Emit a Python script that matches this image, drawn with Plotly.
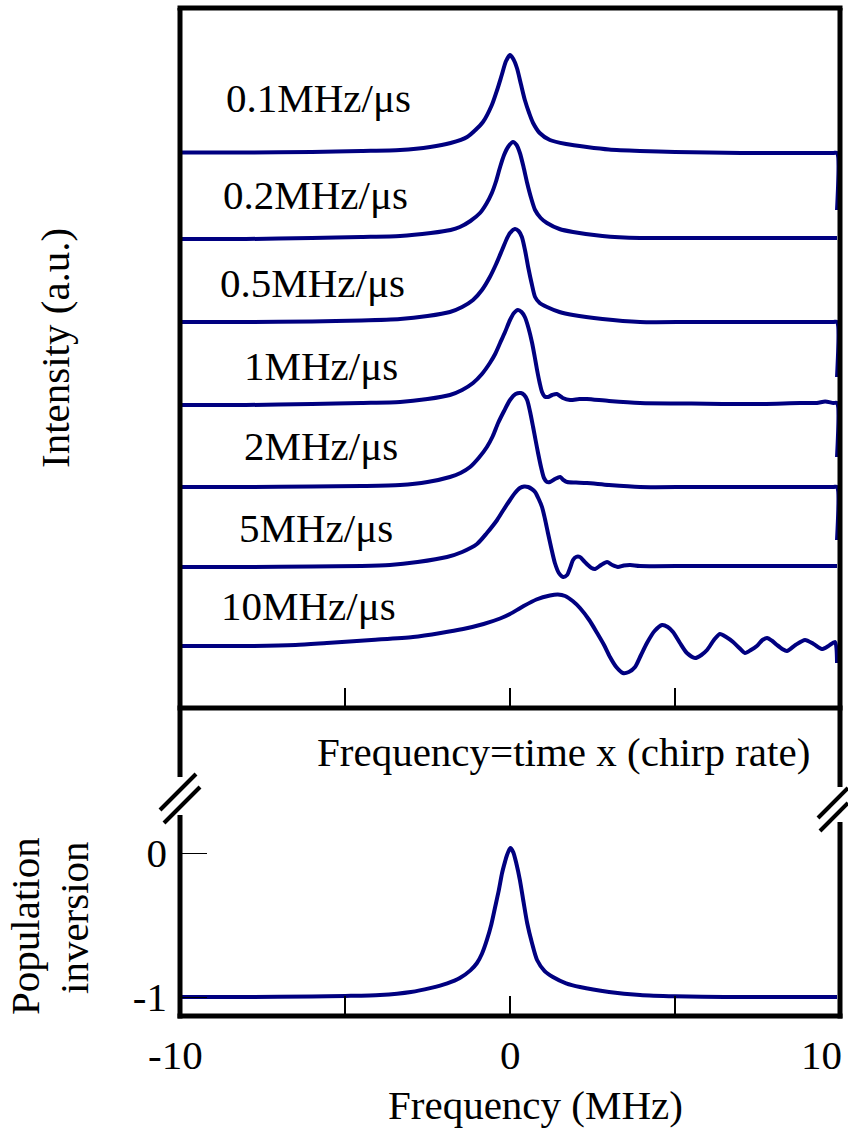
import plotly.graph_objects as go

# ---------------- data ----------------
chirp_labels = ["0.1MHz/μs", "0.2MHz/μs", "0.5MHz/μs", "1MHz/μs", "2MHz/μs", "5MHz/μs", "10MHz/μs"]
offsets = [5.56, 4.70, 3.86, 3.04, 2.21, 1.42, 0.62]

f_01 = [-9.94, -8, -6, -4.5, -3.33, -2.42, -1.8, -1.3, -0.82, -0.55, -0.39, -0.25, -0.12, 0.0, 0.1, 0.21, 0.33,
        0.45, 0.58, 0.70, 0.9, 1.21, 1.7, 2.33, 3.0, 3.94, 5.0, 7.0, 9.0, 9.8, 9.91, 9.91]
i_01 = [-0.005, -0.005, 0.0, 0.01, 0.02, 0.05, 0.09, 0.15, 0.30, 0.47, 0.62, 0.77, 0.91, 0.97, 0.93, 0.84, 0.68,
        0.52, 0.39, 0.29, 0.19, 0.12, 0.08, 0.05, 0.025, 0.01, 0.0, -0.01, -0.01, -0.01, -0.01, -0.58]

f_02 = [-9.94, -8, -6, -4.5, -3.33, -2.4, -1.8, -1.52, -1.2, -0.91, -0.72, -0.55, -0.42, -0.30, -0.18, -0.06, 0.09,
        0.2, 0.30, 0.41, 0.52, 0.64, 0.76, 0.93, 1.12, 1.5, 1.91, 2.8, 3.94, 5.5, 7.5, 9.91]
i_02 = [-0.01, -0.01, 0.0, 0.01, 0.02, 0.05, 0.08, 0.11, 0.17, 0.25, 0.34, 0.45, 0.57, 0.71, 0.83, 0.91, 0.96,
        0.93, 0.85, 0.71, 0.55, 0.40, 0.28, 0.20, 0.15, 0.09, 0.06, 0.02, 0.0, 0.0, 0.0, 0.0]

f_05 = [-9.94, -8, -6, -4.5, -3.33, -2.5, -1.82, -1.45, -1.12, -0.85, -0.61, -0.42, -0.24, -0.1, 0.0, 0.15, 0.26,
        0.36, 0.46, 0.55, 0.66, 0.76, 0.9, 1.12, 1.5, 1.91, 2.8, 3.94, 5.5, 7.5, 9.8, 9.91, 9.91]
i_05 = [0.0, 0.0, 0.005, 0.015, 0.03, 0.06, 0.10, 0.15, 0.22, 0.32, 0.45, 0.58, 0.72, 0.83, 0.89, 0.93, 0.91,
        0.85, 0.71, 0.55, 0.38, 0.25, 0.19, 0.15, 0.10, 0.07, 0.03, 0.0, 0.0, 0.0, 0.0, 0.0, -0.55]

f_1 = [-9.94, -8, -6, -4.5, -3.33, -2.5, -1.82, -1.45, -1.12, -0.85, -0.61, -0.45, -0.30, -0.15, 0.0, 0.12, 0.24,
       0.35, 0.45, 0.56, 0.67, 0.75, 0.82, 0.90, 0.97, 1.05, 1.15, 1.28, 1.42, 1.6, 1.82, 2.1, 2.33, 3.0, 3.94,
       5.5, 7.5, 8.79, 9.3, 9.55, 9.8, 9.91, 9.91]
i_1 = [-0.01, -0.01, 0.0, 0.01, 0.02, 0.05, 0.09, 0.14, 0.21, 0.30, 0.41, 0.50, 0.61, 0.72, 0.84, 0.91, 0.94,
       0.92, 0.87, 0.76, 0.61, 0.47, 0.34, 0.21, 0.12, 0.075, 0.07, 0.09, 0.10, 0.06, 0.04, 0.05, 0.05, 0.03, 0.01,
       0.005, 0.0, 0.01, 0.01, 0.025, 0.01, 0.01, -0.53]

f_2 = [-9.94, -8, -6, -4.5, -3.33, -2.5, -1.82, -1.5, -1.21, -0.95, -0.70, -0.52, -0.36, -0.18, 0.0, 0.17, 0.33,
       0.43, 0.52, 0.61, 0.70, 0.78, 0.85, 0.94, 1.03, 1.12, 1.21, 1.36, 1.52, 1.62, 1.73, 2.0, 2.33, 3.0, 3.94,
       5.5, 7.5, 9.8, 9.91, 9.91]
i_2 = [0.0, 0.0, 0.005, 0.01, 0.02, 0.05, 0.10, 0.14, 0.20, 0.29, 0.40, 0.51, 0.64, 0.76, 0.87, 0.93, 0.94,
       0.92, 0.87, 0.75, 0.60, 0.46, 0.34, 0.20, 0.09, 0.05, 0.05, 0.08, 0.10, 0.07, 0.05, 0.045, 0.04, 0.02, 0.0,
       0.0, 0.0, 0.0, 0.0, -0.53]

f_5 = [-9.94, -8, -6, -4.5, -3.64, -2.8, -1.91, -1.45, -1.0, -0.7, -0.39, -0.2, 0.0, 0.15, 0.30, 0.43, 0.55,
       0.66, 0.76, 0.87, 0.97, 1.06, 1.15, 1.25, 1.36, 1.48, 1.61, 1.73, 1.82, 1.91, 2.0, 2.12, 2.24, 2.36, 2.47,
       2.58, 2.76, 2.94, 3.1, 3.27, 3.45, 3.64, 3.94, 5.5, 7.5, 9.91]
i_5 = [-0.01, -0.01, -0.005, 0.0, 0.01, 0.04, 0.09, 0.14, 0.22, 0.33, 0.46, 0.56, 0.66, 0.73, 0.78, 0.795, 0.79,
       0.77, 0.74, 0.67, 0.59, 0.47, 0.33, 0.18, 0.03, -0.07, -0.11, -0.09, -0.02, 0.06, 0.09, 0.09, 0.05, 0.01, -0.02,
       -0.03, 0.01, 0.04, 0.01, -0.01, 0.005, 0.01, 0.0, 0.0, 0.0, 0.0]

f_10 = [-9.94, -8, -6.5, -5.55, -4.2, -2.94, -2.1, -1.42, -0.8, -0.30, 0.0, 0.39, 0.8, 1.21, 1.45, 1.67, 1.9,
        2.12, 2.4, 2.64, 2.85, 3.03, 3.22, 3.42, 3.6, 3.79, 3.97, 4.15, 4.38, 4.61, 4.78, 4.94, 5.15, 5.36, 5.61,
        5.8, 5.97, 6.18, 6.36, 6.55, 6.76, 6.95, 7.12, 7.3, 7.48, 7.65, 7.79, 7.95, 8.09, 8.25, 8.39, 8.65, 8.94,
        9.2, 9.45, 9.65, 9.85, 9.91]
i_10 = [0.0, 0.0, 0.01, 0.03, 0.06, 0.09, 0.13, 0.17, 0.22, 0.275, 0.32, 0.395, 0.465, 0.505, 0.515, 0.50, 0.45,
        0.38, 0.26, 0.13, 0.01, -0.11, -0.21, -0.27, -0.26, -0.21, -0.09, 0.03, 0.15, 0.21, 0.19, 0.14, 0.03, -0.07,
        -0.12, -0.09, -0.04, 0.06, 0.12, 0.09, 0.04, -0.02, -0.07, -0.04, 0.0, 0.06, 0.08, 0.05, 0.01, -0.03, -0.05,
        0.01, 0.06, 0.02, -0.03, 0.0, 0.04, -0.17]

spectra_f = [f_01, f_02, f_05, f_1, f_2, f_5, f_10]
spectra_i = [i_01, i_02, i_05, i_1, i_2, i_5, i_10]

pop_f = [-9.94, -8, -6, -5, -3.94, -3.0, -2.42, -1.9, -1.52, -1.2, -1.0, -0.85, -0.70, -0.57, -0.45, -0.34,
         -0.24, -0.15, -0.09, 0.01, 0.1, 0.2, 0.30, 0.41, 0.52, 0.66, 0.82, 1.05, 1.30, 1.7, 2.12, 3.0, 3.94,
         5.0, 6.5, 9.91]
pop_v = [-1.0, -1.0, -0.997, -0.993, -0.986, -0.965, -0.938, -0.905, -0.868, -0.815, -0.764, -0.70, -0.604,
         -0.50, -0.375, -0.26, -0.139, -0.06, -0.014, 0.035, 0.005, -0.08, -0.188, -0.34, -0.486, -0.62, -0.743,
         -0.82, -0.861, -0.905, -0.931, -0.965, -0.986, -0.995, -1.0, -1.0]

x_tick_vals = [-5, 0, 5]
x_label_vals = [-10, 0, 10]
x_label_text = ["-10", "0", "10"]
pop_tick_vals = [0, -1]
pop_tick_text = ["0", "-1"]

# ---------------- layout geometry ----------------
W, H = 848, 1131
L, R, T, B = 180, 840, 8, 1016


def px(x):
    return (x - L) / (R - L)


def py(y):
    return (B - y) / (B - T)


NAVY = "rgb(0,0,128)"
FONT = "Liberation Serif, Times New Roman, serif"
FS = 41

fig = go.Figure()

for fx, iy, off in zip(spectra_f, spectra_i, offsets):
    fig.add_trace(go.Scatter(
        x=fx, y=[off + v for v in iy], mode="lines",
        line=dict(color=NAVY, width=4, shape="spline", smoothing=0.7),
        xaxis="x2", yaxis="y", showlegend=False, hoverinfo="skip"))

fig.add_trace(go.Scatter(
    x=pop_f, y=pop_v, mode="lines",
    line=dict(color=NAVY, width=4, shape="spline", smoothing=0.7),
    xaxis="x", yaxis="y2", showlegend=False, hoverinfo="skip"))

axis_common = dict(showgrid=False, zeroline=False, showline=False)

fig.update_layout(
    width=W, height=H,
    margin=dict(l=L, r=W - R, t=T, b=H - B),
    paper_bgcolor="white", plot_bgcolor="white",
    font=dict(family=FONT, size=FS, color="black"),
    xaxis=dict(domain=[0, 1], range=[-10, 10], anchor="y2",
               ticks="inside", tickvals=x_tick_vals, ticklen=20, tickwidth=1.5,
               tickcolor="black", showticklabels=False, **axis_common),
    xaxis2=dict(domain=[0, 1], range=[-10, 10], anchor="y", matches="x",
                ticks="inside", tickvals=x_tick_vals, ticklen=20, tickwidth=1.5,
                tickcolor="black", showticklabels=False, **axis_common),
    yaxis=dict(domain=[py(708), 1], range=[0, 7.0], anchor="x2",
               showticklabels=False, ticks="", **axis_common),
    yaxis2=dict(domain=[0, py(815)], range=[-1.1319, 0.2639], anchor="x",
                ticks="inside", tickvals=pop_tick_vals, ticktext=pop_tick_text,
                ticklen=27, tickwidth=1, tickcolor="black",
                ticklabelstandoff=12, tickfont=dict(size=FS, family=FONT),
                **axis_common),
)

# ---------------- frame, break marks ----------------
def seg(x0, y0, x1, y1, w=5):
    fig.add_shape(type="line", xref="paper", yref="paper",
                  x0=px(x0), y0=py(y0), x1=px(x1), y1=py(y1),
                  line=dict(color="black", width=w), layer="above")

seg(L - 2.5, T, R + 2.5, T)          # top
seg(L - 2.5, 708, R + 2.5, 708)      # upper panel bottom
seg(L, T, L, 777)                    # left upper
seg(R, T, R, 787)                    # right upper
seg(L, 815, L, B + 2.5)              # left lower
seg(R, 822, R, B + 2.5)              # right lower
seg(L - 2.5, B, R + 2.5, B)          # bottom
# break marks
seg(160, 810, 196, 774, 4)
seg(164, 823, 200, 787, 4)
seg(818, 818, 848, 788, 4)
seg(820, 831, 848, 803, 4)

# ---------------- text ----------------
def note(text, x, y, xanchor="center", textangle=0):
    fig.add_annotation(text=text, x=px(x), y=py(y), xref="paper", yref="paper",
                       xanchor=xanchor, yanchor="middle", showarrow=False,
                       textangle=textangle, font=dict(family=FONT, size=FS, color="black"))

label_pos = [(413, 98), (410, 195), (407, 283), (400, 366), (400, 446), (395, 528), (398, 606)]
for lab, (lx, ly) in zip(chirp_labels, label_pos):
    note(lab, lx, ly, xanchor="right")

note("Frequency=time x (chirp rate)", 563, 752)
note("Intensity (a.u.)", 55, 348, textangle=-90)
note("Population", 25, 926, textangle=-90)
note("inversion", 74, 918, textangle=-90)
note("Frequency (MHz)", 535, 1105)

for v, t, sh in zip(x_label_vals, x_label_text, [-5, 0, -19]):
    fig.add_annotation(text=t, x=v, y=py(1055), xref="x", yref="paper",
                       xanchor="center", yanchor="middle", xshift=sh, showarrow=False,
                       font=dict(family=FONT, size=FS, color="black"))

fig.write_html("out.html")
